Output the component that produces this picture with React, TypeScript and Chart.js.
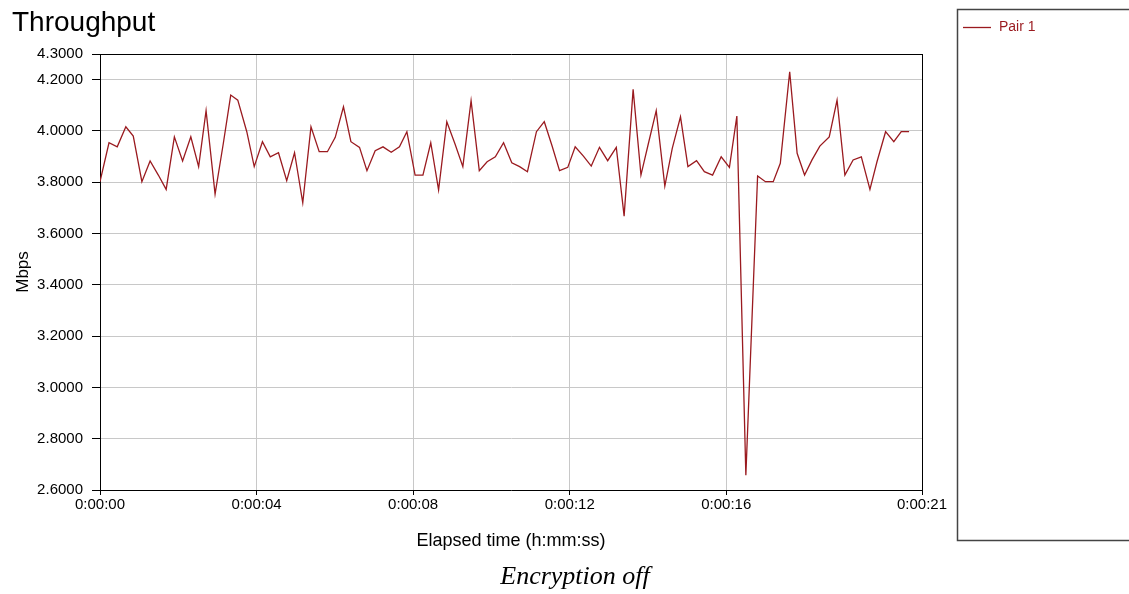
import React, { useEffect, useRef } from "react";
import { Chart, registerables } from "chart.js";

Chart.register(...registerables);

// Elapsed time in seconds
const times = [
  0, 0.23, 0.44, 0.66, 0.85, 1.07, 1.28, 1.49, 1.69, 1.9,
  2.11, 2.32, 2.52, 2.71, 2.94, 3.15, 3.34, 3.52, 3.75, 3.94,
  4.15, 4.35, 4.56, 4.77, 4.97, 5.18, 5.39, 5.6, 5.81, 6.01,
  6.22, 6.41, 6.63, 6.82, 7.03, 7.23, 7.44, 7.65, 7.84, 8.05,
  8.25, 8.45, 8.65, 8.86, 9.07, 9.27, 9.48, 9.69, 9.89, 10.1,
  10.31, 10.52, 10.72, 10.92, 11.15, 11.35, 11.55, 11.74, 11.95, 12.14,
  12.35, 12.55, 12.76, 12.97, 13.19, 13.39, 13.62, 13.82, 14.01, 14.21,
  14.43, 14.62, 14.83, 15.02, 15.24, 15.44, 15.65, 15.87, 16.08, 16.27,
  16.5, 16.8, 17.0, 17.2, 17.38, 17.62, 17.81, 18.0, 18.19, 18.39,
  18.63, 18.83, 19.03, 19.24, 19.45, 19.67, 19.85, 20.07, 20.28, 20.47,
  20.67,
];

// Throughput of Pair 1 (Mbps)
const pair1 = [
  3.802, 3.954, 3.938, 4.016, 3.98, 3.802, 3.883, 3.828, 3.772, 3.977,
  3.883, 3.977, 3.861, 4.079, 3.754, 3.951, 4.14, 4.12, 3.997, 3.861,
  3.958, 3.899, 3.915, 3.806, 3.915, 3.72, 4.016, 3.919, 3.919, 3.975,
  4.094, 3.958, 3.936, 3.845, 3.923, 3.938, 3.917, 3.938, 3.997, 3.828,
  3.828, 3.954, 3.77, 4.036, 3.949, 3.861, 4.118, 3.845, 3.88, 3.899,
  3.954, 3.876, 3.861, 3.841, 3.997, 4.036, 3.941, 3.845, 3.858, 3.938,
  3.902, 3.863, 3.936, 3.884, 3.936, 3.668, 4.162, 3.828, 3.951, 4.079,
  3.785, 3.932, 4.055, 3.861, 3.884, 3.841, 3.828, 3.899, 3.858, 4.058,
  2.658, 3.824, 3.802, 3.802, 3.874, 4.231, 3.913, 3.828, 3.887, 3.941,
  3.977, 4.12, 3.828, 3.887, 3.899, 3.772, 3.88, 3.997, 3.958, 3.997,
  3.997,
];

const yTicks = [2.6, 2.8, 3.0, 3.2, 3.4, 3.6, 3.8, 4.0, 4.2, 4.3];
const xTicks = [0, 4, 8, 12, 16, 21];

const LINE_COLOR = "#9a1a1f";
const SANS = "'Liberation Sans', Arial, sans-serif";

function fmtTime(s: number): string {
  const sec = Math.round(s);
  return `0:00:${String(sec).padStart(2, "0")}`;
}

const decorPlugin = {
  id: "decor",
  afterDraw(chart: any) {
    const { ctx, chartArea } = chart;
    ctx.save();
    // top & right plot border
    ctx.strokeStyle = "#000";
    ctx.lineWidth = 1;
    ctx.beginPath();
    ctx.moveTo(chartArea.left, Math.round(chartArea.top) + 0.5);
    ctx.lineTo(chartArea.right + 1, Math.round(chartArea.top) + 0.5);
    ctx.moveTo(Math.round(chartArea.right) + 0.5, chartArea.top);
    ctx.lineTo(Math.round(chartArea.right) + 0.5, chartArea.bottom);
    ctx.stroke();

    // Title
    ctx.fillStyle = "#000";
    ctx.font = `28px ${SANS}`;
    ctx.textAlign = "left";
    ctx.textBaseline = "alphabetic";
    ctx.fillText("Throughput", 12, 31);

    // Caption
    ctx.font = `italic 26px 'Liberation Serif', 'Times New Roman', serif`;
    ctx.textAlign = "center";
    ctx.fillText("Encryption off", 575, 584);

    // Legend box
    ctx.strokeStyle = "#444";
    ctx.lineWidth = 1.5;
    ctx.strokeRect(957.5, 9.5, 300, 531);
    const ds = chart.data.datasets[0];
    ctx.strokeStyle = ds.borderColor;
    ctx.lineWidth = 1.3;
    ctx.beginPath();
    ctx.moveTo(963, 27.5);
    ctx.lineTo(991, 27.5);
    ctx.stroke();
    ctx.fillStyle = ds.borderColor;
    ctx.font = `14px ${SANS}`;
    ctx.textAlign = "left";
    ctx.textBaseline = "middle";
    ctx.fillText(ds.label, 999, 27.5);
    ctx.restore();
  },
};

export default function App() {
  const canvasRef = useRef<HTMLCanvasElement | null>(null);

  useEffect(() => {
    if (!canvasRef.current) return;
    const data = times.map((t, i) => ({ x: t, y: pair1[i] }));
    const chart = new Chart(canvasRef.current, {
      type: "line",
      data: {
        datasets: [
          {
            label: "Pair 1",
            data,
            borderColor: LINE_COLOR,
            backgroundColor: LINE_COLOR,
            borderWidth: 1.3,
            pointRadius: 0,
            tension: 0,
            fill: false,
          },
        ],
      },
      options: {
        responsive: false,
        animation: false,
        layout: { padding: { top: 54, right: 207, bottom: 0, left: 0 } },
        plugins: {
          legend: { display: false },
          tooltip: { enabled: false },
          title: { display: false },
        },
        scales: {
          x: {
            type: "linear",
            min: 0,
            max: 21,
            afterBuildTicks: (s: any) => {
              s.ticks = xTicks.map((v) => ({ value: v }));
            },
            afterFit: (s: any) => {
              s.height = 104;
            },
            ticks: {
              autoSkip: false,
              maxRotation: 0,
              padding: 1,
              color: "#000",
              font: { family: SANS, size: 15 },
              callback: (v: any) => fmtTime(Number(v)),
            },
            grid: {
              color: "#c8c8c8",
              lineWidth: 1,
              tickColor: "#000",
              tickLength: 5,
            },
            border: { color: "#000", width: 1 },
            title: {
              display: true,
              text: "Elapsed time (h:mm:ss)",
              color: "#000",
              font: { family: SANS, size: 18 },
              padding: { top: 0, bottom: 42 },
            },
          },
          y: {
            type: "linear",
            min: 2.6,
            max: 4.3,
            afterBuildTicks: (s: any) => {
              s.ticks = yTicks.map((v) => ({ value: v }));
            },
            afterFit: (s: any) => {
              s.width = 100;
            },
            ticks: {
              padding: 9,
              color: "#000",
              font: { family: SANS, size: 15 },
              callback: (v: any) => Number(v).toFixed(4),
            },
            grid: {
              color: "#c8c8c8",
              lineWidth: 1,
              tickColor: "#000",
              tickLength: 8,
            },
            border: { color: "#000", width: 1 },
            title: {
              display: true,
              text: "Mbps",
              color: "#000",
              font: { family: SANS, size: 17 },
              padding: { top: 13, bottom: 0 },
            },
          },
        },
      },
      plugins: [decorPlugin],
    });
    return () => chart.destroy();
  }, []);

  return (
    <div style={{ position: "fixed", left: 0, top: 0, width: 1129, height: 594, background: "#fff" }}>
      <canvas ref={canvasRef} width={1129} height={594} style={{ width: 1129, height: 594, display: "block" }} />
    </div>
  );
}
